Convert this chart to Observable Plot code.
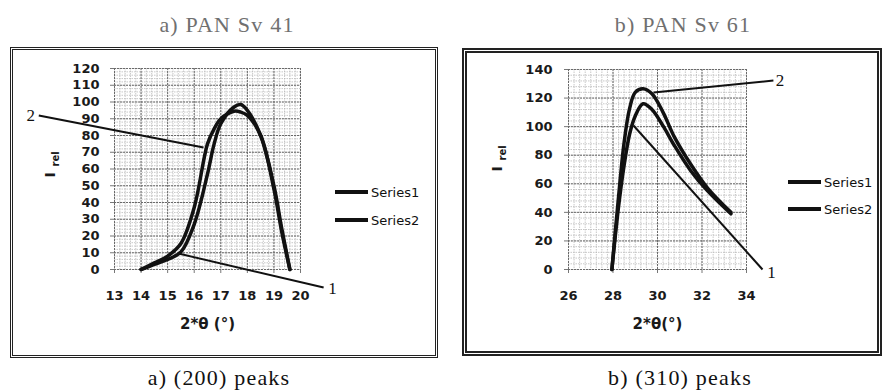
<!DOCTYPE html>
<html><head><meta charset="utf-8">
<script src="https://cdn.jsdelivr.net/npm/d3@7"></script>
<script src="https://cdn.jsdelivr.net/npm/@observablehq/plot@0.6"></script>
<style>
html,body{margin:0;padding:0;background:#fff}
body{width:883px;height:392px;position:relative;overflow:hidden}
.ttl{position:absolute;font-family:"Liberation Serif",serif;font-size:22px;line-height:22px;letter-spacing:1.2px;text-align:center;width:300px;white-space:nowrap}
.panel{position:absolute;box-sizing:border-box;background:#fff}
.panel svg{position:absolute;left:0;top:0}
.leg{position:absolute;font-family:"DejaVu Sans",sans-serif;font-size:13px;color:#111;display:flex;align-items:center;height:16px;white-space:nowrap}
.leg span.ln{display:inline-block;width:33px;height:3.5px;background:#111;margin-right:3px}
</style>
</head><body>
<script>
// ---------- data ----------
const panelTitles = ["a) PAN Sv 41", "b) PAN Sv 61"];
const panelCaptions = ["a) (200) peaks", "b) (310) peaks"];
const seriesNames = ["Series1", "Series2"];
const xLabels = ["2*θ (°)", "2*θ(°)"];
const yLabelMain = "I";
const yLabelSub = "rel";

// panel a: (200) peaks
const leftX       = [14, 14.5, 15, 15.5, 16, 16.5, 16.75, 17, 17.5, 17.75, 18, 18.5, 19, 19.3, 19.6];
const leftSeries1 = [0, 3, 6, 10.5, 27, 57, 75, 87, 97, 98.5, 95, 80, 50, 24, 0];
const leftSeries2 = [0, 4, 8, 15.5, 37, 75, 84, 90, 94.5, 94, 92, 80, 48, 22, 0];
const leftXTicks  = [13, 14, 15, 16, 17, 18, 19, 20];
const leftYTicks  = [0, 10, 20, 30, 40, 50, 60, 70, 80, 90, 100, 110, 120];
const leftNoteText = ["2", "1"];
const leftNoteX    = [9.85, 21.2];
const leftNoteY    = [92, -11.3];
const leftLeadX1   = [10.15, 15.41];
const leftLeadY1   = [92, 9.5];
const leftLeadX2   = [16.35, 20.87];
const leftLeadY2   = [72.8, -10.7];

// panel b: (310) peaks
const rightX       = [27.95, 28.25, 28.5, 28.75, 29, 29.35, 29.75, 30.25, 30.75, 31.5, 32.25, 33.3];
const rightSeries1 = [0, 44, 73, 95, 107.5, 116, 112, 100.5, 87, 69, 55, 39];
const rightSeries2 = [0, 51, 89, 113, 124, 126.5, 123, 110, 93, 73.5, 57, 40];
const rightXTicks  = [26, 28, 30, 32, 34];
const rightYTicks  = [0, 20, 40, 60, 80, 100, 120, 140];
const rightNoteText = ["2", "1"];
const rightNoteX    = [35.5, 35.12];
const rightNoteY    = [132.3, -2.1];
const rightLeadX1   = [29.82, 28.92];
const rightLeadY1   = [123.9, 100.8];
const rightLeadX2   = [35.21, 34.72];
const rightLeadY2   = [132.3, 0];

// ---------- layout ----------
function addDiv(cls, css, html) {
  const d = document.createElement("div");
  d.className = cls;
  Object.assign(d.style, css);
  d.innerHTML = html || "";
  document.body.appendChild(d);
  return d;
}

function makePanel(cfg) {
  const s1 = cfg.x.map((x, i) => ({x, y: cfg.s1[i]}));
  const s2 = cfg.x.map((x, i) => ({x, y: cfg.s2[i]}));
  const notes = cfg.noteText.map((t, i) => ({
    t, x: cfg.noteX[i], y: cfg.noteY[i],
    x1: cfg.leadX1[i], y1: cfg.leadY1[i], x2: cfg.leadX2[i], y2: cfg.leadY2[i]
  }));
  const [x0, x1] = cfg.xDomain, [y0, y1] = cfg.yDomain;
  const minorX = d3.range(Math.round((x1 - x0) / cfg.xMinor) + 1).map(i => x0 + i * cfg.xMinor);
  const minorY = d3.range(Math.round((y1 - y0) / cfg.yMinor) + 1).map(i => y0 + i * cfg.yMinor);
  const majorX = d3.range(Math.round((x1 - x0) / cfg.xMajor) + 1).map(i => x0 + i * cfg.xMajor);
  const plot = Plot.plot({
    width: cfg.width, height: cfg.height,
    marginLeft: cfg.ml, marginRight: cfg.mr, marginTop: cfg.mt, marginBottom: cfg.mb,
    style: {fontFamily: "DejaVu Sans, sans-serif", fontSize: "13px", fontWeight: "bold", color: "#1a1a1a", background: "transparent", overflow: "visible"},
    x: {domain: cfg.xDomain, ticks: cfg.xTicks, tickSize: 4, tickPadding: 17, label: null, tickFormat: d => String(d)},
    y: {domain: cfg.yDomain, ticks: cfg.yTicks, tickSize: 4, tickPadding: cfg.yPad, label: null, tickFormat: d => String(d)},
    marks: [
      Plot.ruleX(minorX, {stroke: "#b0b0b0", strokeWidth: 0.7, strokeDasharray: "1.5,1"}),
      Plot.ruleY(minorY, {stroke: "#b0b0b0", strokeWidth: 0.7, strokeDasharray: "1.5,1"}),
      Plot.ruleX(majorX, {stroke: "#6a6a6a", strokeWidth: 1, strokeDasharray: "2,1"}),
      Plot.ruleY(cfg.yTicks, {stroke: "#6a6a6a", strokeWidth: 1, strokeDasharray: "2,1"}),
      Plot.line(s1, {x: "x", y: "y", curve: "catmull-rom", stroke: "#111", strokeWidth: 3.5}),
      Plot.line(s2, {x: "x", y: "y", curve: "catmull-rom", stroke: "#111", strokeWidth: 3.5}),
      Plot.link(notes, {x1: "x1", y1: "y1", x2: "x2", y2: "y2", stroke: "#111", strokeWidth: 2}),
      Plot.text(notes, {x: "x", y: "y", text: "t", fontFamily: "Liberation Serif, serif", fontSize: 17, fontWeight: "normal", fill: "#111"}),
      Plot.text([cfg.xLabel], {text: d => d, frameAnchor: "bottom", dy: 59, fontSize: 15, fontWeight: "bold"}),
      Plot.text([yLabelMain], {text: d => d, frameAnchor: "left", dx: cfg.iDx, dy: cfg.iDy, rotate: -90, fontSize: 14, fontWeight: "bold"}),
      Plot.text([yLabelSub], {text: d => d, frameAnchor: "left", dx: cfg.iDx + 5, dy: cfg.iDy - 11, rotate: -90, fontSize: 10, fontWeight: "bold"})
    ]
  });
  plot.querySelectorAll('[aria-label*="axis"] line, [aria-label*="axis"] path').forEach(e => e.setAttribute("stroke", "#777"));
  const panel = addDiv("panel", {left: cfg.left + "px", top: cfg.top + "px", width: cfg.pw + "px", height: cfg.ph + "px", border: cfg.border});
  const inner = document.createElement("div");
  inner.style.position = "relative";
  inner.appendChild(plot);
  panel.appendChild(inner);
  seriesNames.forEach((n, i) => {
    addDiv("leg", {left: cfg.legX + "px", top: (cfg.legY[i] - 8) + "px"}, '<span class="ln"></span>' + n);
  });
}

// titles and captions
addDiv("ttl", {left: (227 - 150) + "px", top: "14px", color: "#707070"}, panelTitles[0]);
addDiv("ttl", {left: (683 - 150) + "px", top: "14px", color: "#707070"}, panelTitles[1]);
addDiv("ttl", {left: (219 - 150) + "px", top: "367px", color: "#111"}, panelCaptions[0]);
addDiv("ttl", {left: (680 - 150) + "px", top: "367px", color: "#111"}, panelCaptions[1]);

makePanel({
  left: 10, top: 47, pw: 428, ph: 311, border: "3px double #222",
  width: 422, height: 305, ml: 101, mr: 135, mt: 18, mb: 86, yPad: 11,
  x: leftX, s1: leftSeries1, s2: leftSeries2,
  xDomain: [13, 20], yDomain: [0, 120], xTicks: leftXTicks, yTicks: leftYTicks,
  xMinor: 0.2, yMinor: 2, xMajor: 1,
  noteText: leftNoteText, noteX: leftNoteX, noteY: leftNoteY,
  leadX1: leftLeadX1, leadY1: leftLeadY1, leadX2: leftLeadX2, leadY2: leftLeadY2,
  xLabel: xLabels[0], iDx: -64, iDy: 8.5,
  legX: 335, legY: [192, 220]
});

makePanel({
  left: 462, top: 48, pw: 420, ph: 308, border: "5px double #222",
  width: 410, height: 298, ml: 101, mr: 131, mt: 16, mb: 82, yPad: 12,
  x: rightX, s1: rightSeries1, s2: rightSeries2,
  xDomain: [26, 34], yDomain: [0, 140], xTicks: rightXTicks, yTicks: rightYTicks,
  xMinor: 0.25, yMinor: 4, xMajor: 2,
  noteText: rightNoteText, noteX: rightNoteX, noteY: rightNoteY,
  leadX1: rightLeadX1, leadY1: rightLeadY1, leadX2: rightLeadX2, leadY2: rightLeadY2,
  xLabel: xLabels[1], iDx: -71, iDy: 2,
  legX: 788, legY: [182, 209]
});
</script>
</body></html>
